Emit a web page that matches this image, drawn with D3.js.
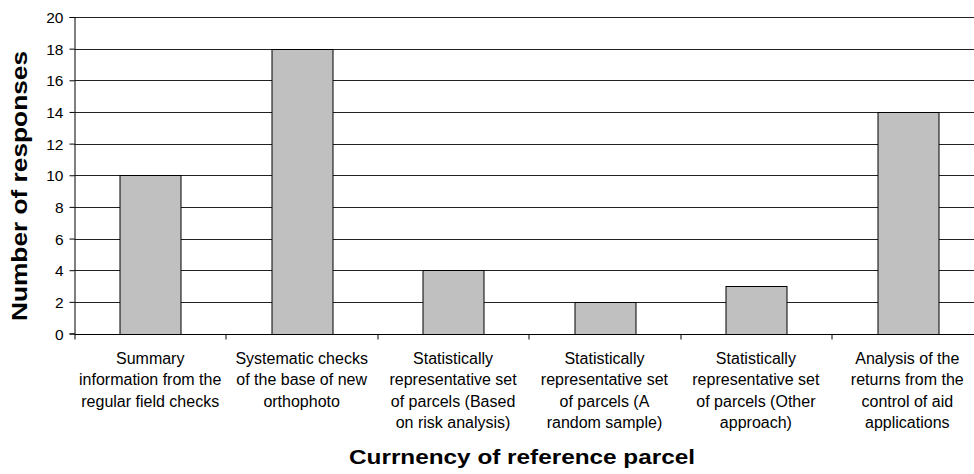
<!DOCTYPE html>
<html>
<head>
<meta charset="utf-8">
<script src="https://cdn.jsdelivr.net/npm/d3@7"></script>
<style>
  body { margin: 0; background: #fff; }
  svg { display: block; }
  text { font-family: "Liberation Sans", Arial, sans-serif; fill: #000; }
</style>
</head>
<body>
<script>

const categories = [
  ['Summary', 'information from the', 'regular field checks'],
  ['Systematic checks', 'of the base of new', 'orthophoto'],
  ['Statistically', 'representative set', 'of parcels (Based', 'on risk analysis)'],
  ['Statistically', 'representative set', 'of parcels (A', 'random sample)'],
  ['Statistically', 'representative set', 'of parcels (Other', 'approach)'],
  ['Analysis of the', 'returns from the', 'control of aid', 'applications']
];

const responses = [10, 18, 4, 2, 3, 14];

const yTicks = [0, 2, 4, 6, 8, 10, 12, 14, 16, 18, 20];

const xTitle = 'Currnency of reference parcel',
      yTitle = 'Number of responses';

const WIDTH  = 974,
      HEIGHT = 474;

const MARGIN = {
  top: 17,
  right: -9,
  bottom: 140.5,
  left: 74.5
};

const innerW = WIDTH - MARGIN.left - MARGIN.right,
      innerH = HEIGHT - MARGIN.top - MARGIN.bottom;

const svg = d3.select('body').append('svg')
  .attr('width', WIDTH)
  .attr('height', HEIGHT);

const g = svg.append('g')
  .attr('transform', `translate(${MARGIN.left}, ${MARGIN.top})`);

const x = d3.scaleBand()
  .domain(d3.range(categories.length))
  .range([0, innerW])
  .paddingInner(0.6)
  .paddingOuter(0.3);

const y = d3.scaleLinear()
  .domain([0, 20])
  .range([innerH, 0]);

// gridlines
g.selectAll('.grid')
  .data(yTicks.slice(1))
  .enter().append('line')
    .attr('class', 'grid')
    .attr('x1', 0)
    .attr('x2', innerW)
    .attr('y1', (d) => Math.round(y(d)) + 0.5)
    .attr('y2', (d) => Math.round(y(d)) + 0.5)
    .attr('stroke', '#222')
    .attr('stroke-width', 1);

// bars
g.selectAll('.bar')
  .data(responses)
  .enter().append('rect')
    .attr('class', 'bar')
    .attr('x', (d, i) => Math.round(x(i)) + 0.5)
    .attr('y', (d) => Math.round(y(d)) + 0.5)
    .attr('width', Math.round(x.bandwidth()))
    .attr('height', (d) => Math.round(y(0)) - Math.round(y(d)))
    .attr('fill', '#c0c0c0')
    .attr('stroke', '#000')
    .attr('stroke-width', 1);

// y axis
const yAxis = g.append('g')
  .call(d3.axisLeft(y).tickValues(yTicks).tickSize(5).tickPadding(6));

yAxis.select('.domain').attr('stroke', '#000');
yAxis.selectAll('.tick line').attr('stroke', '#000');
yAxis.selectAll('.tick text')
  .style('font-size', '15.5px')
  .attr('dy', '0.36em');

// x axis with ticks at category boundaries
const step = x.step();
const xAxis = g.append('g')
  .attr('transform', `translate(0, ${Math.round(innerH) + 0.5})`);

xAxis.append('line')
  .attr('x1', 0)
  .attr('x2', innerW)
  .attr('stroke', '#000');

xAxis.selectAll('.xtick')
  .data(d3.range(categories.length + 1))
  .enter().append('line')
    .attr('class', 'xtick')
    .attr('x1', (d) => Math.round(d * step) + 0.5)
    .attr('x2', (d) => Math.round(d * step) + 0.5)
    .attr('y1', 0)
    .attr('y2', 5)
    .attr('stroke', '#000');

const labels = xAxis.selectAll('.xlabel')
  .data(categories)
  .enter().append('text')
    .attr('class', 'xlabel')
    .attr('text-anchor', 'middle')
    .style('font-size', '16px')
    .attr('transform', (d, i) => `translate(${x(i) + x.bandwidth() / 2}, 29)`);

labels.selectAll('tspan')
  .data((d) => d)
  .enter().append('tspan')
    .attr('x', 0)
    .attr('dy', (d, i) => i === 0 ? 0 : 21.5)
    .text((d) => d);

// axis titles
svg.append('text')
  .attr('x', 522)
  .attr('y', 464)
  .attr('text-anchor', 'middle')
  .style('font-size', '21px')
  .style('font-weight', 'bold')
  .attr('textLength', 346)
  .attr('lengthAdjust', 'spacingAndGlyphs')
  .text(xTitle);

svg.append('text')
  .attr('transform', 'translate(26.5, 186) rotate(-90)')
  .attr('text-anchor', 'middle')
  .style('font-size', '22px')
  .style('font-weight', 'bold')
  .attr('textLength', 270)
  .attr('lengthAdjust', 'spacingAndGlyphs')
  .text(yTitle);

</script>
</body>
</html>
